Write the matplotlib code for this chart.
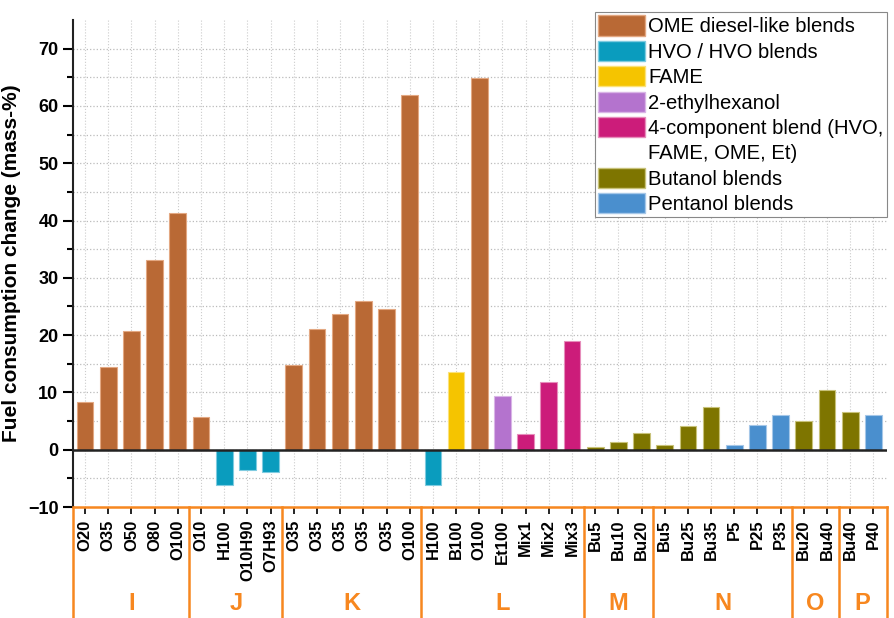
import numpy as np
import matplotlib.pyplot as plt
from matplotlib.patches import Patch

plt.rcParams['font.family'] = ['Liberation Sans', 'DejaVu Sans']

labels = ["O20", "O35", "O50", "O80", "O100",
          "O10", "H100", "O10H90", "O7H93",
          "O35", "O35", "O35", "O35", "O35", "O100",
          "H100", "B100", "O100", "Et100", "Mix1", "Mix2", "Mix3",
          "Bu5", "Bu10", "Bu20",
          "Bu5", "Bu25", "Bu35", "P5", "P25", "P35",
          "Bu20", "Bu40",
          "Bu40", "P40"]
values = [8.3, 14.5, 20.8, 33.2, 41.4,
          5.7, -6.1, -3.5, -3.9,
          14.7, 21.1, 23.7, 26.0, 24.6, 62.0,
          -6.2, 13.6, 64.9, 9.3, 2.8, 11.9, 19.0,
          0.4, 1.4, 3.0,
          0.8, 4.2, 7.4, 0.9, 4.4, 6.1,
          5.0, 10.5,
          6.6, 6.0]
fuel_type = ["OME"] * 5 + ["OME", "HVO", "HVO", "HVO"] + ["OME"] * 6 + \
            ["HVO", "FAME", "OME", "EH", "MIX", "MIX", "MIX"] + ["BU"] * 3 + \
            ["BU", "BU", "BU", "PE", "PE", "PE"] + ["BU", "BU"] + ["BU", "PE"]
group_names = ["I", "J", "K", "L", "M", "N", "O", "P"]
group_sizes = [5, 4, 6, 7, 3, 6, 2, 2]

colors = {"OME": "#B96935", "HVO": "#0A9CBE", "FAME": "#F5C400", "EH": "#B473CE",
          "MIX": "#CC1C7A", "BU": "#7E7500", "PE": "#4A8FCE"}
edges = {"OME": "#E3A882", "HVO": "#7FCBE0", "FAME": "#FBE27A", "EH": "#D9B5E6",
         "MIX": "#E68DBB", "BU": "#C8C27A", "PE": "#A5C7E8"}
legend_items = [("OME", "OME diesel-like blends"), ("HVO", "HVO / HVO blends"),
                ("FAME", "FAME"), ("EH", "2-ethylhexanol"),
                ("MIX", "4-component blend (HVO,"), (None, "FAME, OME, Et)"),
                ("BU", "Butanol blends"), ("PE", "Pentanol blends")]
orange = "#F7871F"

fig = plt.figure(figsize=(8.94, 6.18), dpi=100)
ax = fig.add_axes([0.0817, 0.1796, 0.9103, 0.788])

x = np.arange(len(values))
ax.bar(x, values, width=0.72, color=[colors[t] for t in fuel_type],
       edgecolor=[edges[t] for t in fuel_type], linewidth=0.8, zorder=3)

ax.set_xlim(-0.52, len(values) - 0.42)
ax.set_ylim(-10, 75)
ax.set_yticks(np.arange(-10, 71, 10))
ax.set_yticks(np.arange(-5, 75, 10), minor=True)
ax.set_xticks(x)
ax.set_xticklabels(labels, rotation=90, fontsize=12, fontweight='bold')
for t in ax.get_yticklabels():
    t.set_fontweight('bold')
ax.tick_params(axis='y', labelsize=13, direction='out', length=7, width=1.5)
ax.tick_params(axis='y', which='minor', direction='out', length=4, width=1.5)
ax.tick_params(axis='x', direction='out', length=5, width=1.2, pad=4)
ax.set_ylabel("Fuel consumption change (mass-%)", fontsize=15, fontweight='bold', labelpad=5)

ax.set_axisbelow(True)
for yv in np.arange(-5, 71, 5):
    ax.axhline(yv, color='#BBBBBB', linestyle=':', linewidth=0.9, zorder=0)
for xv in x:
    ax.axvline(xv, color='#CCCCCC', linestyle=':', linewidth=0.8, zorder=0)
ax.axhline(0, color='#222222', linewidth=1.8, zorder=4)

ax.spines['top'].set_visible(False)
ax.spines['right'].set_visible(False)
ax.spines['left'].set_linewidth(1.5)
ax.spines['left'].set_color('#222222')
ax.spines['bottom'].set_color(orange)
ax.spines['bottom'].set_linewidth(1.8)

# group brackets below the axis
trans = ax.get_xaxis_transform()
bounds = np.concatenate([[0], np.cumsum(group_sizes)])
edges_x = [-0.52] + [b - 0.5 for b in bounds[1:-1]] + [len(values) - 0.42]
for ex in edges_x:
    ax.plot([ex, ex], [0, -0.26], color=orange, linewidth=1.8, transform=trans, clip_on=False)
for name, a, b in zip(group_names, bounds[:-1], bounds[1:]):
    ax.text((a + b - 1) / 2, -0.199, name, transform=trans, ha='center', va='center',
            color=orange, fontsize=17, fontweight='bold')

handles = []
for key, lab in legend_items:
    if key is None:
        handles.append(Patch(facecolor='none', edgecolor='none', label=lab))
    else:
        handles.append(Patch(facecolor=colors[key], edgecolor=edges[key], label=lab))
leg = fig.legend(handles=handles, loc='upper left', bbox_to_anchor=(0.666, 0.980),
                 fontsize=14.6, handlelength=2.3, handleheight=1.15, handletextpad=0.15,
                 labelspacing=0.22, borderpad=0.15, borderaxespad=0, fancybox=False,
                 framealpha=1, edgecolor='#888888')
leg.get_frame().set_linewidth(0.8)

fig.savefig("out.png", dpi=100)
